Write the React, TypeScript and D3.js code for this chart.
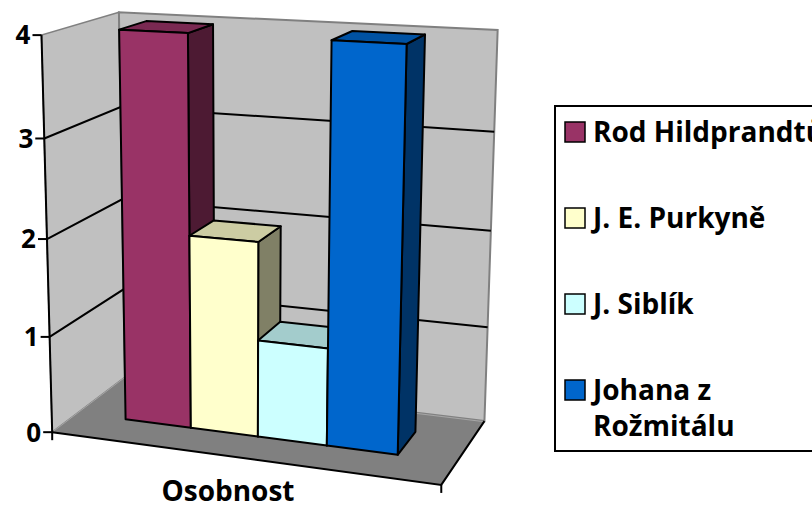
import React from 'react';
import * as d3 from 'd3';

const categoryLabel = 'Osobnost';
const seriesNames = ['Rod Hildprandtů', 'J. E. Purkyně', 'J. Siblík', 'Johana z Rožmitálu'];
const legendLines = [['Rod Hildprandtů'], ['J. E. Purkyně'], ['J. Siblík'], ['Johana z', 'Rožmitálu']];
const seriesValues = [4, 2, 1, 4];
const valueTicks = [0, 1, 2, 3, 4];
const frontColors = ['#993366', '#FFFFCC', '#CCFFFF', '#0066CC'];

const W = 812;
const H = 508;

// where the corners / tick points of the 3D box land on screen: [u, h, w, x, y]
// u: left->right, h: bottom->top (0..1), w: front->back
const boxAnchors = [
  [0, 0, 0, 53.3, 431.7],
  [0, 0.25, 0, 50.7, 336.7],
  [0, 0.5, 0, 46.7, 239.3],
  [0, 0.75, 0, 45, 138],
  [0, 1, 0, 39.3, 35],
  [1, 0, 1, 485.7, 420],
  [1, 0.25, 1, 487.3, 327.3],
  [1, 0.5, 1, 490.7, 230],
  [1, 0.75, 1, 493.3, 132.3],
  [1, 1, 1, 498.3, 30],
  [0, 0, 1, 123, 378],
  [0, 1, 1, 120.5, 12.5],
  [1, 0, 0, 440.7, 486],
];

// least squares fit of a 3D -> 2D perspective map
function fitProjection(pts: number[][]) {
  const S = 500;
  const n = 11;
  const M = Array.from({ length: n }, () => new Array(n + 1).fill(0));
  const addRow = (row: number[], rhs: number) => {
    for (let i = 0; i < n; i++) {
      for (let j = 0; j < n; j++) M[i][j] += row[i] * row[j];
      M[i][n] += row[i] * rhs;
    }
  };
  for (const [u, h, w, x, y] of pts) {
    const xs = x / S, ys = y / S;
    addRow([u, h, w, 1, 0, 0, 0, 0, -xs * u, -xs * h, -xs * w], xs);
    addRow([0, 0, 0, 0, u, h, w, 1, -ys * u, -ys * h, -ys * w], ys);
  }
  for (let c = 0; c < n; c++) {
    let piv = c;
    for (let r = c + 1; r < n; r++) if (Math.abs(M[r][c]) > Math.abs(M[piv][c])) piv = r;
    [M[c], M[piv]] = [M[piv], M[c]];
    for (let r = 0; r < n; r++) {
      if (r === c) continue;
      const f = M[r][c] / M[c][c];
      for (let k = c; k <= n; k++) M[r][k] -= f * M[c][k];
    }
  }
  const p = M.map((row, i) => row[n] / row[i]);
  return (u: number, h: number, w: number): [number, number] => {
    const d = p[8] * u + p[9] * h + p[10] * w + 1;
    return [
      (S * (p[0] * u + p[1] * h + p[2] * w + p[3])) / d,
      (S * (p[4] * u + p[5] * h + p[6] * w + p[7])) / d,
    ];
  };
}

const proj = fitProjection(boxAnchors);

const yScale = d3.scaleLinear().domain([0, 4]).range([0, 1]);
const xBand = d3.scaleBand<string>().domain(seriesNames).range([-0.005, 0.995]).paddingInner(0).paddingOuter(0.78);
const depthFront = 0.33;
const depthBack = 0.7;

const P = (u: number, v: number, w: number) => proj(u, yScale(v), w);
const poly = (pts: [number, number][]) => 'M' + pts.map((p) => p.join(',')).join('L') + 'Z';
const line = d3.line();

export default function App() {
  const font = "'Open Sans', sans-serif";

  const leftWall = poly([P(0, 0, 0), P(0, 4, 0), P(0, 4, 1), P(0, 0, 1)]);
  const backWall = poly([P(0, 0, 1), P(0, 4, 1), P(1, 4, 1), P(1, 0, 1)]);
  const floor = poly([P(0, 0, 0), P(0, 0, 1), P(1, 0, 1), P(1, 0, 0)]);

  return (
    <svg width={W} height={H} style={{ position: 'absolute', left: 0, top: 0, background: '#fff' }}>
      <path d={leftWall} fill="#c0c0c0" stroke="#808080" strokeWidth={1.5} />
      <path d={backWall} fill="#c0c0c0" stroke="#808080" strokeWidth={2} />
      <path d={floor} fill="#808080" />
      <path d={line([P(0, 0, 0.02), P(0, 0, 0.99), P(1, 0, 0.99)]) as string} fill="none" stroke="#a6a6a6" strokeWidth={1} />

      {/* gridlines */}
      {valueTicks.filter((v) => v > 0 && v < 4).map((v) => (
        <path key={v} d={line([P(0, v, 0), P(0, v, 1), P(1, v, 1)]) as string} fill="none" stroke="#000" strokeWidth={2} />
      ))}

      {/* floor front and right edge */}
      <path d={line([P(0, 0, 0), P(1, 0, 0), P(1, 0, 1)]) as string} fill="none" stroke="#000" strokeWidth={2} />
      {/* value axis */}
      <path d={line([P(0, 0, 0), P(0, 4, 0)]) as string} fill="none" stroke="#000" strokeWidth={2} />
      {valueTicks.map((v) => {
        const [x, y] = P(0, v, 0);
        return (
          <g key={v}>
            <line x1={x - 9} x2={x} y1={y} y2={y} stroke="#000" strokeWidth={2} />
            <text x={x - 11} y={y} dy="0.36em" textAnchor="end" fontFamily={font} fontWeight={700} fontSize={26}>{v}</text>
          </g>
        );
      })}
      {[0, 1].map((u) => {
        const [x, y] = P(u, 0, 0);
        return <line key={u} x1={x} x2={x} y1={y} y2={y + 8} stroke="#000" strokeWidth={2} />;
      })}

      {/* bars */}
      {seriesNames.map((s, i) => {
        const u0 = xBand(s) as number;
        const u1 = u0 + xBand.bandwidth();
        const v = seriesValues[i];
        const base = d3.color(frontColors[i]) as d3.RGBColor;
        const shade = (k: number) => d3.rgb(base.r * k, base.g * k, base.b * k).formatHex();
        const side = poly([P(u1, 0, depthFront), P(u1, 0, depthBack), P(u1, v, depthBack), P(u1, v, depthFront)]);
        const top = poly([P(u0, v, depthFront), P(u1, v, depthFront), P(u1, v, depthBack), P(u0, v, depthBack)]);
        const front = poly([P(u0, 0, depthFront), P(u1, 0, depthFront), P(u1, v, depthFront), P(u0, v, depthFront)]);
        return (
          <g key={s} stroke="#000" strokeWidth={2} strokeLinejoin="round">
            <path d={side} fill={shade(0.5)} />
            <path d={top} fill={shade(0.8)} />
            <path d={front} fill={frontColors[i]} />
          </g>
        );
      })}

      <text x={228} y={501} textAnchor="middle" fontFamily={font} fontWeight={700} fontSize={28}>{categoryLabel}</text>

      {/* legend */}
      <rect x={555} y={106} width={300} height={345} fill="#fff" stroke="#000" strokeWidth={2} />
      {seriesNames.map((s, i) => {
        const top = 122 + i * 86;
        return (
          <g key={s}>
            <rect x={565} y={top} width={20} height={20} fill={frontColors[i]} stroke="#000" strokeWidth={1.5} />
            {legendLines[i].map((t, j) => (
              <text key={j} x={593} y={top + 20 + j * 36} fontFamily={font} fontWeight={700} fontSize={28}>{t}</text>
            ))}
          </g>
        );
      })}
    </svg>
  );
}
